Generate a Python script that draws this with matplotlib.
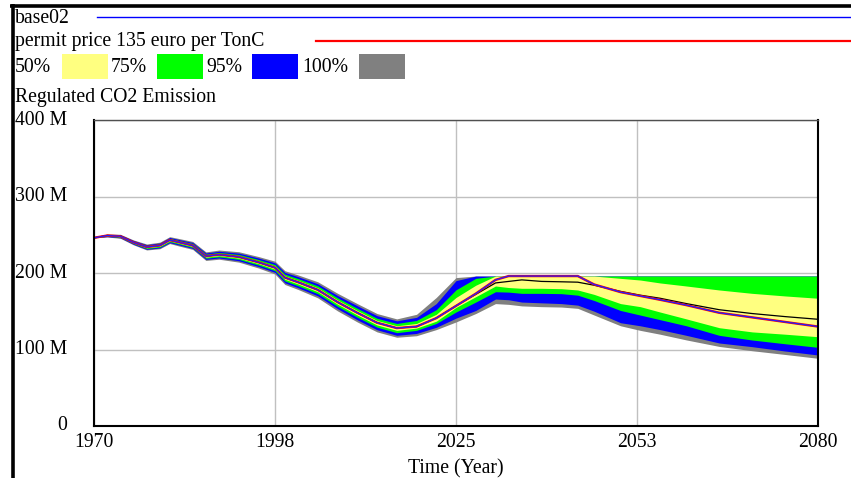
import matplotlib
matplotlib.use("Agg")
import matplotlib.pyplot as plt
from matplotlib.patches import Rectangle

plt.rcParams['font.family'] = ['Liberation Serif', 'DejaVu Serif']

years = [1970, 1972, 1974, 1976, 1978, 1980, 1981.5, 1983, 1985, 1987,
         1989, 1992, 1995, 1997.5, 1999, 2001, 2004, 2007, 2010, 2013,
         2016, 2019, 2022, 2025, 2028, 2031, 2033, 2035, 2038, 2041,
         2043.5, 2046, 2050, 2053, 2056, 2060, 2065, 2070, 2075, 2080]

# runs (M)
base02 = [246, 249, 248, 240, 234, 236, 243, 240, 236, 222,
          224, 221, 214, 207, 194, 188, 178, 162, 148, 135,
          128, 130, 141, 157, 173, 191, 196, 196, 196, 196,
          196, 185, 175, 170, 165, 158, 148, 142, 136, 130]
permit135 = [246, 249, 248, 240, 234, 236, 243, 240, 236, 222,
             224, 221, 214, 207, 194, 188, 178, 162, 148, 135,
             128, 130, 141, 157, 173, 191, 196, 196, 196, 196,
             196, 185, 175, 170, 165, 158, 148, 142, 136, 130]
median = [246, 249, 248, 240, 234, 236, 243, 240, 236, 222,
          224, 221, 214, 207, 194, 188, 178, 162, 148, 135,
          128, 130, 141, 157, 172, 187, 189, 191, 189, 188.5,
          188, 184, 176, 171, 167, 160, 152, 147, 143, 139.5]

# confidence bounds (M)
gray_lo = [246, 247, 245.4, 236.8, 230.1, 231.7, 238.5, 235.1, 230.8, 216.4,
           218, 214.2, 206.5, 198.6, 185, 178.5, 167.5, 150.5, 136, 123,
           116, 118, 126, 136, 147, 160, 159, 157, 156, 155.5,
           153.8, 145, 131, 125, 120, 112.5, 104, 98.4, 93.5, 88.5]
gray_hi = [246, 251, 250.6, 243.2, 237.9, 240.3, 247.5, 244.9, 241.2, 227.6,
           230, 227.8, 221.5, 215.4, 203, 197.5, 188.5, 173.5, 160, 147,
           140, 146, 168, 194, 196, 196, 196, 196, 196, 196,
           196, 196, 196, 196, 196, 196, 196, 196, 196, 196]
blue_lo = [246, 247.6, 246, 237.5, 231, 232.8, 239.6, 236.4, 232.1, 217.8,
           219.6, 216, 208.4, 200.8, 187.2, 180.8, 170.1, 153.4, 138.8, 125.8,
           118.5, 121, 129, 141, 151, 166, 165, 162, 161, 160,
           158, 150, 135, 131, 126, 118.5, 108.5, 103.7, 98, 92.8]
blue_hi = [246, 250.4, 250, 242.5, 237, 239.2, 246.4, 243.6, 239.9, 226.2,
           228.4, 226, 219.6, 213.2, 200.8, 195.2, 185.9, 170.6, 157.2, 144.2,
           137.5, 142, 160, 190, 196, 196, 196, 196, 196, 196,
           196, 196, 196, 196, 196, 196, 196, 196, 196, 196]
green_lo = [246, 248.1, 246.7, 238.4, 232, 233.9, 240.8, 237.7, 233.4, 219.3,
            221.1, 217.8, 210.4, 203, 189.6, 183.3, 172.9, 156.5, 142.2, 129.2,
            122, 125, 134, 149, 162, 175.5, 175, 173.4, 173.4, 173,
            171, 164, 151, 145, 139, 131, 118.5, 112.4, 107.5, 102.8]
green_hi = [246, 249.9, 249.3, 241.6, 236, 238.1, 245.2, 242.3, 238.6, 224.7,
            226.9, 224.2, 217.6, 211, 198.4, 192.7, 183.1, 167.5, 153.8, 140.8,
            134, 138, 152, 178, 193, 196, 196, 196, 196, 196,
            196, 196, 196, 196, 196, 196, 196, 196, 196, 196]
yellow_lo = [246, 248.6, 247.4, 239.2, 233.1, 235, 242, 238.8, 234.7, 220.7,
             222.6, 219.4, 212.2, 205, 191.8, 185.7, 175.5, 159.3, 145.1, 132.1,
             125, 128, 137, 155, 169, 183, 181, 180, 180, 179.5,
             177.8, 172, 160, 156, 149, 140, 128.5, 123, 120, 116.7]
yellow_hi = [246, 249.4, 248.6, 240.8, 234.9, 237, 244, 241.2, 237.3, 223.3,
             225.4, 222.6, 215.8, 209, 196.2, 190.3, 180.5, 164.7, 150.9, 137.9,
             131, 134, 146, 168, 184, 196, 196, 196, 196, 196,
             196, 196, 193, 190.8, 187, 183, 177.8, 173.4, 170, 167]

xticks = [1970, 1997.5, 2025, 2052.5, 2080]
xtick_labels = ['1970', '1998', '2025', '2053', '2080']
yticks = [0, 100, 200, 300, 400]
ytick_labels = ['0', '100 M', '200 M', '300 M', '400 M']

W, H = 851, 478
fs = 14.2
fig = plt.figure(figsize=(W / 100, H / 100), dpi=100)

# overlay in pixel coords for the header/legend
ov = fig.add_axes([0, 0, 1, 1])
ov.set_xlim(0, W)
ov.set_ylim(H, 0)
ov.axis('off')
ov.plot([10, W], [5.5, 5.5], color='black', lw=2.6, solid_capstyle='butt')
ov.plot([12.5, 12.5], [4, H], color='black', lw=2.6, solid_capstyle='butt')

ov.text(15, 18, 'base02', fontsize=fs, va='center')
ov.plot([97, W], [17, 17], color='#0000ff', lw=1.0)
ov.text(15, 41, 'permit price 135 euro per TonC', fontsize=fs, va='center')
ov.plot([316, W], [40.5, 40.5], color='#ff0000', lw=1.6)

band_colors = ['#ffff80', '#00ff00', '#0000ff', '#808080']
band_names = ['50%', '75%', '95%', '100%']
text_x = [15, 111, 206, 302]
box_x = [62, 157, 252, 359]
for name, tx, bx, c in zip(band_names, text_x, box_x, band_colors):
    ov.text(tx, 67, name, fontsize=fs, va='center')
    ov.add_patch(Rectangle((bx, 54), 46, 25, color=c, lw=0))
ov.text(15, 97, 'Regulated CO2 Emission', fontsize=fs, va='center')

# main plot
ax = fig.add_axes([94 / W, 1 - 426 / H, 724 / W, 306 / H])
ax.fill_between(years, gray_lo, gray_hi, color='#808080', lw=0)
ax.fill_between(years, blue_lo, blue_hi, color='#0000ff', lw=0)
ax.fill_between(years, green_lo, green_hi, color='#00ff00', lw=0)
ax.fill_between(years, yellow_lo, yellow_hi, color='#ffff80', lw=0)
ax.plot(years, median, color='black', lw=0.9)
ax.plot(years, permit135, color='#ff0000', lw=1.7)
ax.plot(years, base02, color='#2020ff', lw=0.9)

ax.set_xlim(1970, 2080)
ax.set_ylim(0, 400)
ax.set_xticks(xticks)
ax.set_xticklabels(xtick_labels)
ax.set_yticks(yticks)
ax.set_yticklabels(ytick_labels, ha='right')
ax.tick_params(length=0, labelsize=fs)
ax.tick_params(axis='y', pad=19.5)
ax.tick_params(axis='x', pad=5)
for lab in ax.get_yticklabels():
    lab.set_verticalalignment('center')
ax.set_xlabel('Time (Year)', fontsize=fs, labelpad=5)

ax.grid(True, color='#c0c0c0', lw=1.0)
ax.set_axisbelow(True)
for s in ['left', 'bottom', 'right']:
    ax.spines[s].set_color('black')
    ax.spines[s].set_linewidth(1.5)
ax.spines['top'].set_color('#505050')
ax.spines['top'].set_linewidth(1.0)

fig.savefig('out.png', dpi=100)
